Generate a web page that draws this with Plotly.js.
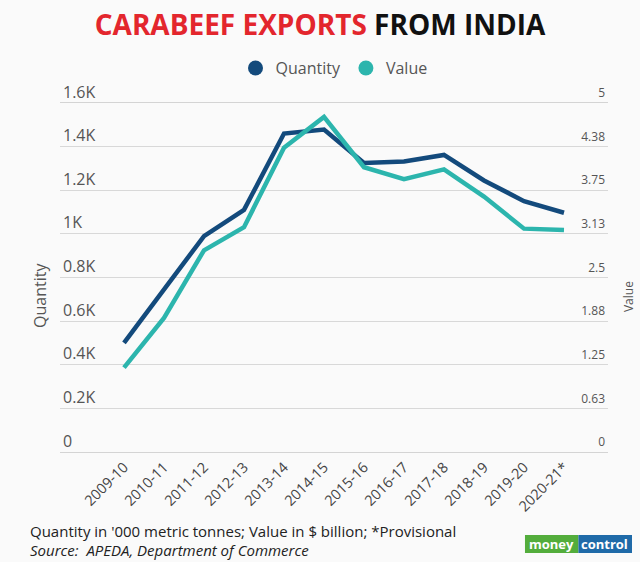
<!DOCTYPE html>
<html>
<head>
<meta charset="utf-8">
<script src="https://cdn.plot.ly/plotly-3.0.1.min.js"></script>
<style>html,body{margin:0;padding:0;background:#fafafa;}#chart{width:640px;height:562px;}</style>
</head>
<body>
<div id="chart"></div>
<script>
const years = ["2009-10","2010-11","2011-12","2012-13","2013-14","2014-15","2015-16","2016-17","2017-18","2018-19","2019-20","2020-21*"];
const quantity = [500, 745, 990, 1110, 1460, 1478, 1325, 1332, 1362, 1245, 1150, 1097];
const value = [1.21, 1.92, 2.89, 3.22, 4.36, 4.80, 4.08, 3.91, 4.05, 3.66, 3.20, 3.18];
const qTickVals = [0, 200, 400, 600, 800, 1000, 1200, 1400, 1600];
const qTickText = ["0","0.2K","0.4K","0.6K","0.8K","1K","1.2K","1.4K","1.6K"];
const vTickVals = [0, 0.625, 1.25, 1.875, 2.5, 3.125, 3.75, 4.375, 5];
const vTickText = ["0","0.63","1.25","1.88","2.5","3.13","3.75","4.38","5"];

const navy = "#134a7c";
const teal = "#2cb5ad";
const font = "Open Sans, sans-serif";

const traces = [
  {x: years, y: quantity, type: "scatter", mode: "lines", name: "Quantity", yaxis: "y",
   line: {color: navy, width: 4.5}, showlegend: false},
  {x: years, y: value, type: "scatter", mode: "lines", name: "Value", yaxis: "y2",
   line: {color: teal, width: 4.5}, showlegend: false},
  {x: [null], y: [null], type: "scatter", mode: "markers", name: "Quantity",
   marker: {color: navy, size: 15}, showlegend: true},
  {x: [null], y: [null], type: "scatter", mode: "markers", name: "Value", yaxis: "y2",
   marker: {color: teal, size: 15}, showlegend: true}
];

const layout = {
  width: 640, height: 562,
  margin: {l: 60, r: 32, t: 103, b: 110},
  paper_bgcolor: "#fafafa",
  plot_bgcolor: "#fafafa",
  font: {family: font, color: "#555"},
  title: {
    text: "<b><span style='color:#e3262d'>CARABEEF EXPORTS</span> FROM INDIA</b>",
    font: {family: font, size: 28, color: "#111"},
    x: 0.5, xanchor: "center", yref: "container", y: 0.955, yanchor: "middle"
  },
  legend: {
    orientation: "h", x: 0.5, xanchor: "center", y: 1.10, yanchor: "middle",
    font: {family: font, size: 16, color: "#555"}, bgcolor: "rgba(0,0,0,0)",
    itemwidth: 30, tracegroupgap: 0
  },
  xaxis: {
    type: "category", categoryorder: "array", categoryarray: years,
    range: [-1.6, 12.1], tickangle: -45, showgrid: false, zeroline: false,
    showline: true, mirror: true, linecolor: "#d4d4d4", linewidth: 1,
    ticks: "", tickfont: {family: font, size: 14.5, color: "#444"}
  },
  yaxis: {
    range: [0, 1600], tickvals: qTickVals, ticktext: qTickText,
    showgrid: true, gridcolor: "#d8d8d8", gridwidth: 1,
    zeroline: false, showline: false,
    ticks: "", ticklabelposition: "inside", ticklabelshift: -11, ticklabeloverflow: "allow",
    tickfont: {family: font, size: 16, color: "#555"}
  },
  yaxis2: {
    range: [0, 5], tickvals: vTickVals, ticktext: vTickText,
    overlaying: "y", side: "right", showgrid: false, zeroline: false, showline: false,
    ticks: "", ticklabelposition: "inside", ticklabelshift: -10, ticklabeloverflow: "allow",
    tickfont: {family: font, size: 12, color: "#555"}
  },
  annotations: [
    {text: "Quantity", xref: "paper", yref: "paper", x: -0.0365, y: 0.45, textangle: -90,
     showarrow: false, xanchor: "center", yanchor: "middle", font: {family: font, size: 16, color: "#555"}},
    {text: "Value", xref: "paper", yref: "paper", x: 1.0365, y: 0.444, textangle: -90,
     showarrow: false, xanchor: "center", yanchor: "middle", font: {family: font, size: 12, color: "#555"}},
    {text: "Quantity in '000 metric tonnes; Value in $ billion; *Provisional", xref: "paper", yref: "paper",
     x: -0.0584, y: -0.2264, xanchor: "left", yanchor: "middle", showarrow: false,
     font: {family: font, size: 15, color: "#222"}},
    {text: "<i>Source:  APEDA, Department of Commerce</i>", xref: "paper", yref: "paper",
     x: -0.0584, y: -0.281, xanchor: "left", yanchor: "middle", showarrow: false,
     font: {family: font, size: 15, color: "#222"}},
    {text: "<b>money</b>", xref: "paper", yref: "paper", x: 0.897, y: -0.2636, xanchor: "center", yanchor: "middle",
     showarrow: false, font: {family: font, size: 13, color: "#ffffff"}},
    {text: "<b>control</b>", xref: "paper", yref: "paper", x: 0.9944, y: -0.2636, xanchor: "center", yanchor: "middle",
     showarrow: false, font: {family: font, size: 13, color: "#ffffff"}}
  ],
  shapes: [
    {type: "rect", xref: "paper", yref: "paper", x0: 0.8485, x1: 0.946, y0: -0.2894, y1: -0.2378,
     fillcolor: "#53ad3c", line: {width: 0}, layer: "above"},
    {type: "rect", xref: "paper", yref: "paper", x0: 0.946, x1: 1.0438, y0: -0.2894, y1: -0.2378,
     fillcolor: "#1f6aa8", line: {width: 0}, layer: "above"}
  ]
};

Plotly.newPlot("chart", traces, layout, {displayModeBar: false, staticPlot: true});
</script>
</body>
</html>
